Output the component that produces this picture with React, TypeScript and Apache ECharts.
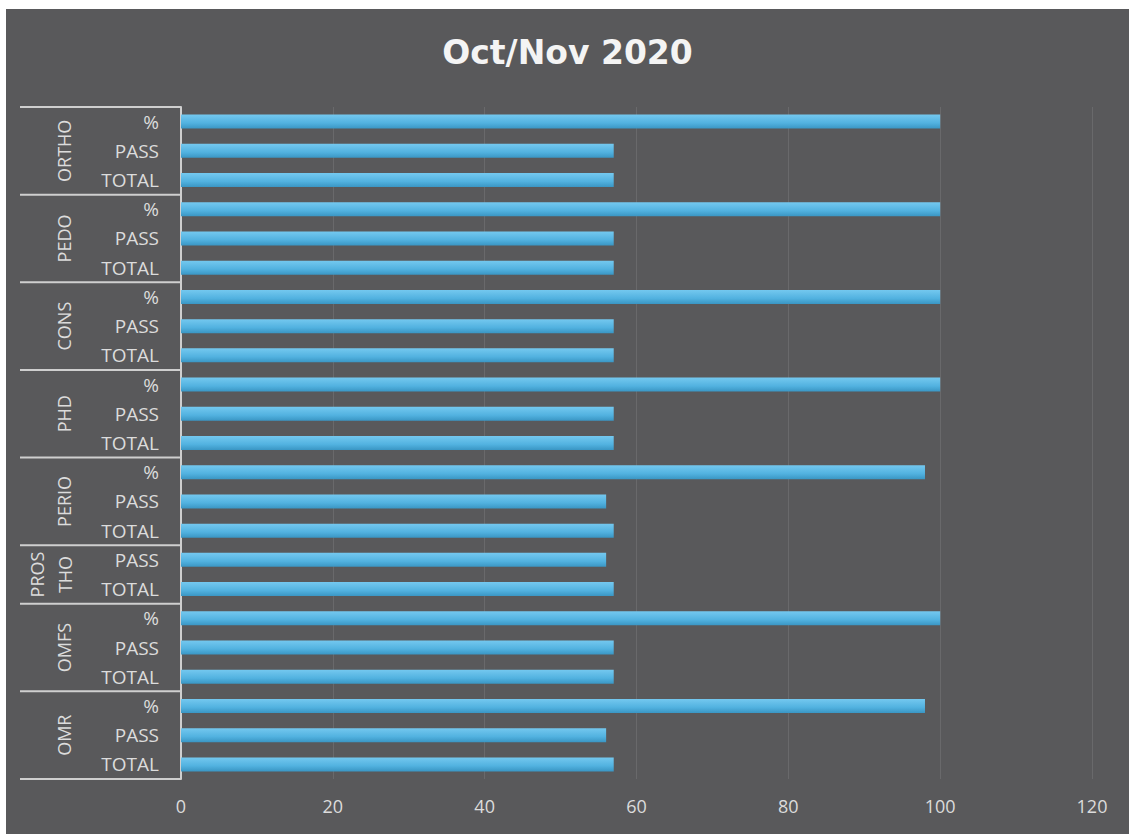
import React, { useEffect, useRef } from "react";
import * as echarts from "echarts";

const groups = ["ORTHO", "PEDO", "CONS", "PHD", "PERIO", "PROSTHO", "OMFS", "OMR"];
const groupLabels = ["ORTHO", "PEDO", "CONS", "PHD", "PERIO", "PROS\nTHO", "OMFS", "OMR"];
const percents: (number | null)[] = [100, 100, 100, 100, 98, null, 100, 98];
const passes = [57, 57, 57, 57, 56, 56, 57, 56];
const totals = [57, 57, 57, 57, 57, 57, 57, 57];
const xTicks = [0, 20, 40, 60, 80, 100, 120];
const title = "Oct/Nov 2020";

export default function App() {
  const ref = useRef<HTMLDivElement>(null);
  useEffect(() => {
    if (!ref.current) return;
    const chart = echarts.init(ref.current, null, { renderer: "svg" });

    const cats: string[] = [];
    const vals: number[] = [];
    const groupIdx: number[] = [];
    groups.forEach((g, i) => {
      if (percents[i] !== null) {
        cats.push(g + "|%");
        vals.push(percents[i] as number);
        groupIdx.push(i);
      }
      cats.push(g + "|PASS");
      vals.push(passes[i]);
      groupIdx.push(i);
      cats.push(g + "|TOTAL");
      vals.push(totals[i]);
      groupIdx.push(i);
    });

    const font = "'Open Sans', Lato, sans-serif";
    const textColor = "#dcdcdc";
    chart.setOption({
      animation: false,
      backgroundColor: "#59595b",
      title: {
        text: title,
        left: "center",
        top: 22,
        textStyle: {
          color: "#f4f4f4",
          fontSize: 33,
          fontWeight: "bold",
          fontFamily: "'DejaVu Sans', sans-serif",
        },
      },
      grid: { left: 175, right: 37, top: 98, bottom: 55, containLabel: false },
      xAxis: {
        type: "value",
        min: xTicks[0],
        max: xTicks[xTicks.length - 1],
        interval: 20,
        axisLine: { show: false },
        axisTick: { show: false },
        splitLine: { show: true, lineStyle: { color: "rgba(255,255,255,0.1)", width: 1 } },
        axisLabel: { color: textColor, fontSize: 18, margin: 18, fontFamily: font },
      },
      yAxis: {
        type: "category",
        inverse: true,
        data: cats,
        axisLine: { show: true, lineStyle: { color: "#cfcfcf", width: 2 } },
        axisTick: { show: false },
        splitLine: { show: false },
        axisLabel: {
          color: textColor,
          fontSize: 19,
          margin: 22,
          fontFamily: font,
          formatter: (v: string) => v.split("|")[1],
        },
      },
      series: [
        {
          type: "bar",
          data: vals,
          barWidth: 14,
          itemStyle: {
            color: new echarts.graphic.LinearGradient(0, 0, 0, 1, [
              { offset: 0, color: "#74c8ef" },
              { offset: 0.6, color: "#52b2e0" },
              { offset: 1, color: "#3a96c4" },
            ]),
          },
        },
      ],
    });

    // Group separators and group labels computed from the axis scale
    const c0 = chart.convertToPixel({ yAxisIndex: 0 }, 0) as number;
    const c1 = chart.convertToPixel({ yAxisIndex: 0 }, 1) as number;
    const band = c1 - c0;
    const axisX = chart.convertToPixel({ xAxisIndex: 0 }, 0) as number;
    const graphics: any[] = [];
    const lineLeft = 14;
    let start = 0;
    for (let k = 0; k <= cats.length; k++) {
      if (k === cats.length || (k > 0 && groupIdx[k] !== groupIdx[k - 1])) {
        const gi = groupIdx[k - 1];
        const yTop = (chart.convertToPixel({ yAxisIndex: 0 }, start) as number) - band / 2;
        const yBot = (chart.convertToPixel({ yAxisIndex: 0 }, k - 1) as number) + band / 2;
        if (start === 0) {
          graphics.push({
            type: "line",
            shape: { x1: lineLeft, y1: yTop, x2: axisX, y2: yTop },
            style: { stroke: "#cfcfcf", lineWidth: 2 },
          });
        }
        graphics.push({
          type: "line",
          shape: { x1: lineLeft, y1: yBot, x2: axisX, y2: yBot },
          style: { stroke: "#cfcfcf", lineWidth: 2 },
        });
        const multi = groupLabels[gi].includes("\n");
        graphics.push({
          type: "text",
          x: multi ? 45 : 58,
          y: (yTop + yBot) / 2,
          rotation: Math.PI / 2,
          style: {
            text: groupLabels[gi],
            fill: textColor,
            fontSize: 18,
            fontFamily: font,
            align: "center",
            verticalAlign: "middle",
            lineHeight: 28,
          },
        });
        start = k;
      }
    }
    chart.setOption({ graphic: graphics });

    return () => chart.dispose();
  }, []);

  return (
    <div
      ref={ref}
      style={{ position: "absolute", left: 6, top: 9, width: 1123, height: 825 }}
    />
  );
}
